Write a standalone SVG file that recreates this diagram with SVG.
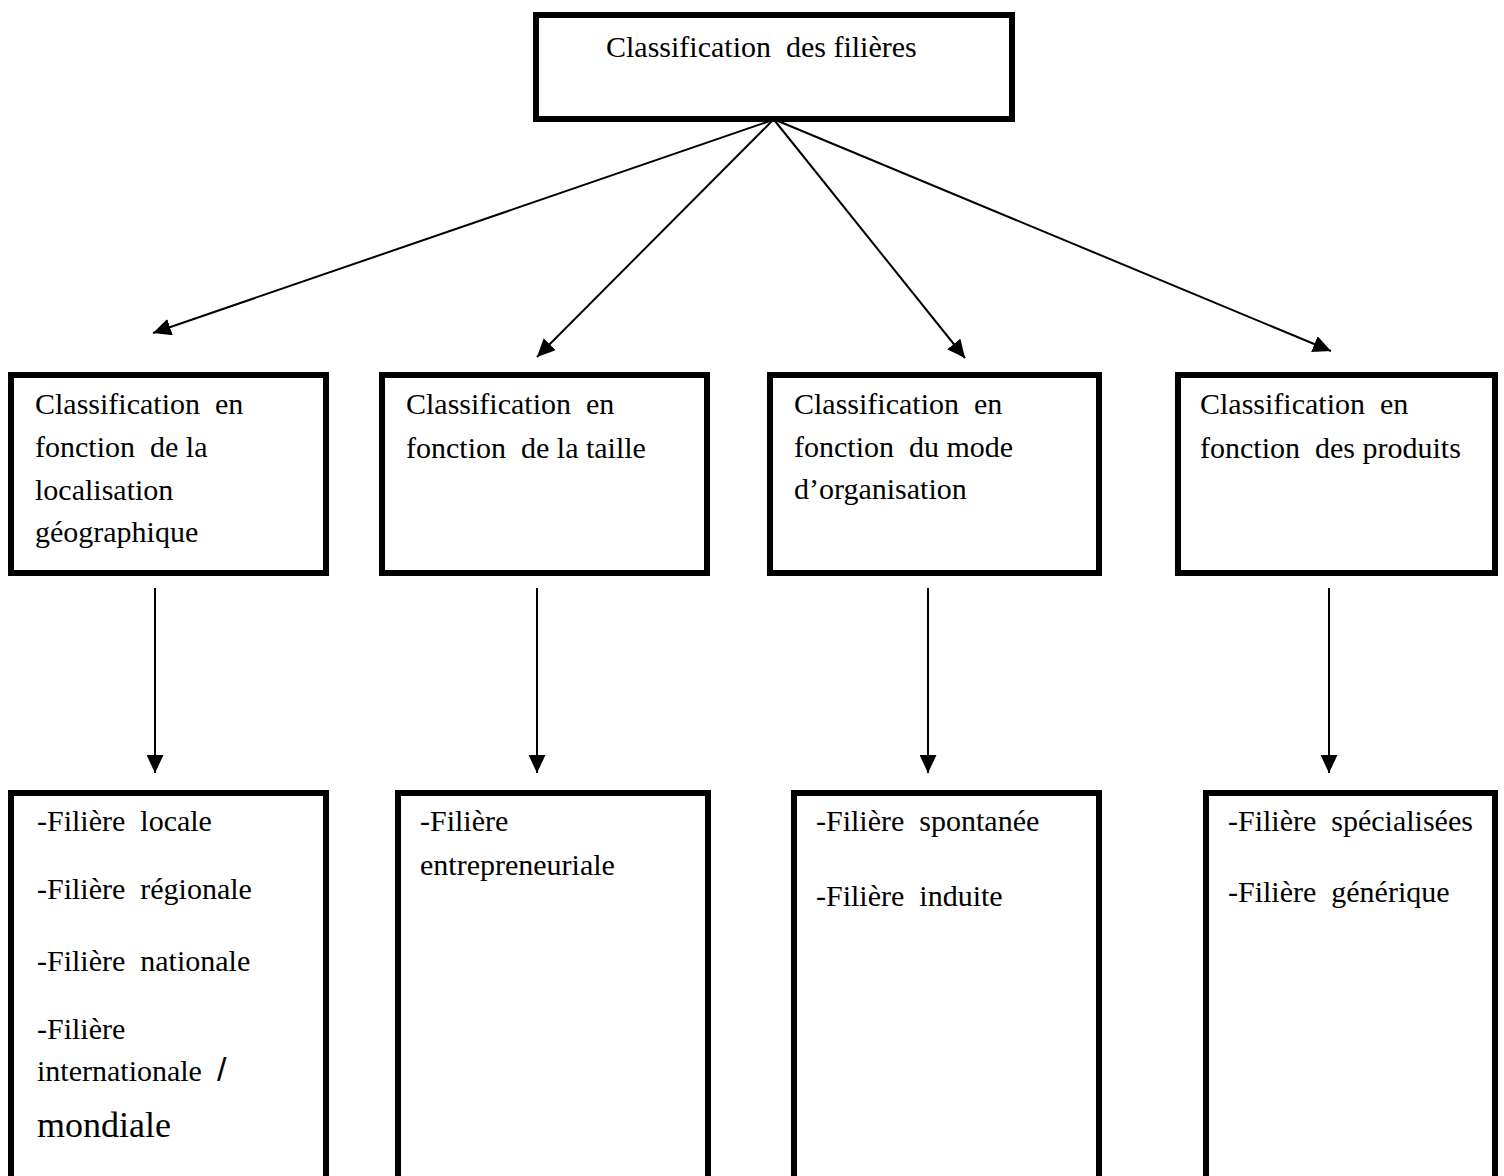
<svg xmlns="http://www.w3.org/2000/svg" width="1504" height="1176" viewBox="0 0 1504 1176">
<style>
.box{fill:#fff;stroke:#000;stroke-width:6}
.t{font-family:"Liberation Serif","Times New Roman",serif;font-size:30px;fill:#000;white-space:pre}
.big{font-size:36px}
.sl{font-family:"Liberation Sans",Arial,sans-serif;font-size:34px}
.c{stroke:#000;stroke-width:2;fill:none}
</style>
<defs>
<marker id="ah" markerUnits="userSpaceOnUse" markerWidth="18" markerHeight="17" refX="18" refY="8.5" orient="auto">
<path d="M0,0 L18,8.5 L0,17 z" fill="#000"/>
</marker>
</defs>
<rect width="1504" height="1176" fill="#fff"/>
<g id="connectors">
<line class="c" x1="770" y1="121" x2="153" y2="333" marker-end="url(#ah)"/>
<line class="c" x1="772" y1="121" x2="537" y2="357" marker-end="url(#ah)"/>
<line class="c" x1="775" y1="121" x2="965" y2="358" marker-end="url(#ah)"/>
<line class="c" x1="778" y1="121" x2="1331" y2="351" marker-end="url(#ah)"/>
<line class="c" x1="155" y1="588" x2="155" y2="773" marker-end="url(#ah)"/>
<line class="c" x1="537" y1="588" x2="537" y2="773" marker-end="url(#ah)"/>
<line class="c" x1="928" y1="588" x2="928" y2="773" marker-end="url(#ah)"/>
<line class="c" x1="1329" y1="588" x2="1329" y2="773" marker-end="url(#ah)"/>
</g>
<g id="root">
<rect class="box" x="536" y="15" width="476" height="104"/>
<text class="t" x="606" y="57">Classification  des filières</text>
</g>
<g id="geo">
<rect class="box" x="11" y="375" width="315" height="198"/>
<text class="t" x="35" y="414">Classification  en</text>
<text class="t" x="35" y="457">fonction  de la</text>
<text class="t" x="35" y="500">localisation</text>
<text class="t" x="35" y="542">géographique</text>
</g>
<g id="taille">
<rect class="box" x="382" y="375" width="325" height="198"/>
<text class="t" x="406" y="414">Classification  en</text>
<text class="t" x="406" y="458">fonction  de la taille</text>
</g>
<g id="mode">
<rect class="box" x="770" y="375" width="329" height="198"/>
<text class="t" x="794" y="414">Classification  en</text>
<text class="t" x="794" y="457">fonction  du mode</text>
<text class="t" x="794" y="499">d’organisation</text>
</g>
<g id="produits">
<rect class="box" x="1178" y="375" width="317" height="198"/>
<text class="t" x="1200" y="414">Classification  en</text>
<text class="t" x="1200" y="458">fonction  des produits</text>
</g>
<g id="geo-list">
<rect class="box" x="11" y="793" width="315" height="420"/>
<text class="t" x="37" y="831">-Filière  locale</text>
<text class="t" x="37" y="899">-Filière  régionale</text>
<text class="t" x="37" y="971">-Filière  nationale</text>
<text class="t" x="37" y="1039">-Filière</text>
<text class="t" x="37" y="1081">internationale  <tspan class="sl">/</tspan></text>
<text class="t big" x="37" y="1137">mondiale</text>
</g>
<g id="taille-list">
<rect class="box" x="398" y="793" width="310" height="420"/>
<text class="t" x="420" y="831">-Filière</text>
<text class="t" x="420" y="875">entrepreneuriale</text>
</g>
<g id="mode-list">
<rect class="box" x="794" y="793" width="305" height="420"/>
<text class="t" x="816" y="831">-Filière  spontanée</text>
<text class="t" x="816" y="906">-Filière  induite</text>
</g>
<g id="produits-list">
<rect class="box" x="1206" y="793" width="289" height="420"/>
<text class="t" x="1228" y="831">-Filière  spécialisées</text>
<text class="t" x="1228" y="902">-Filière  générique</text>
</g>
</svg>
